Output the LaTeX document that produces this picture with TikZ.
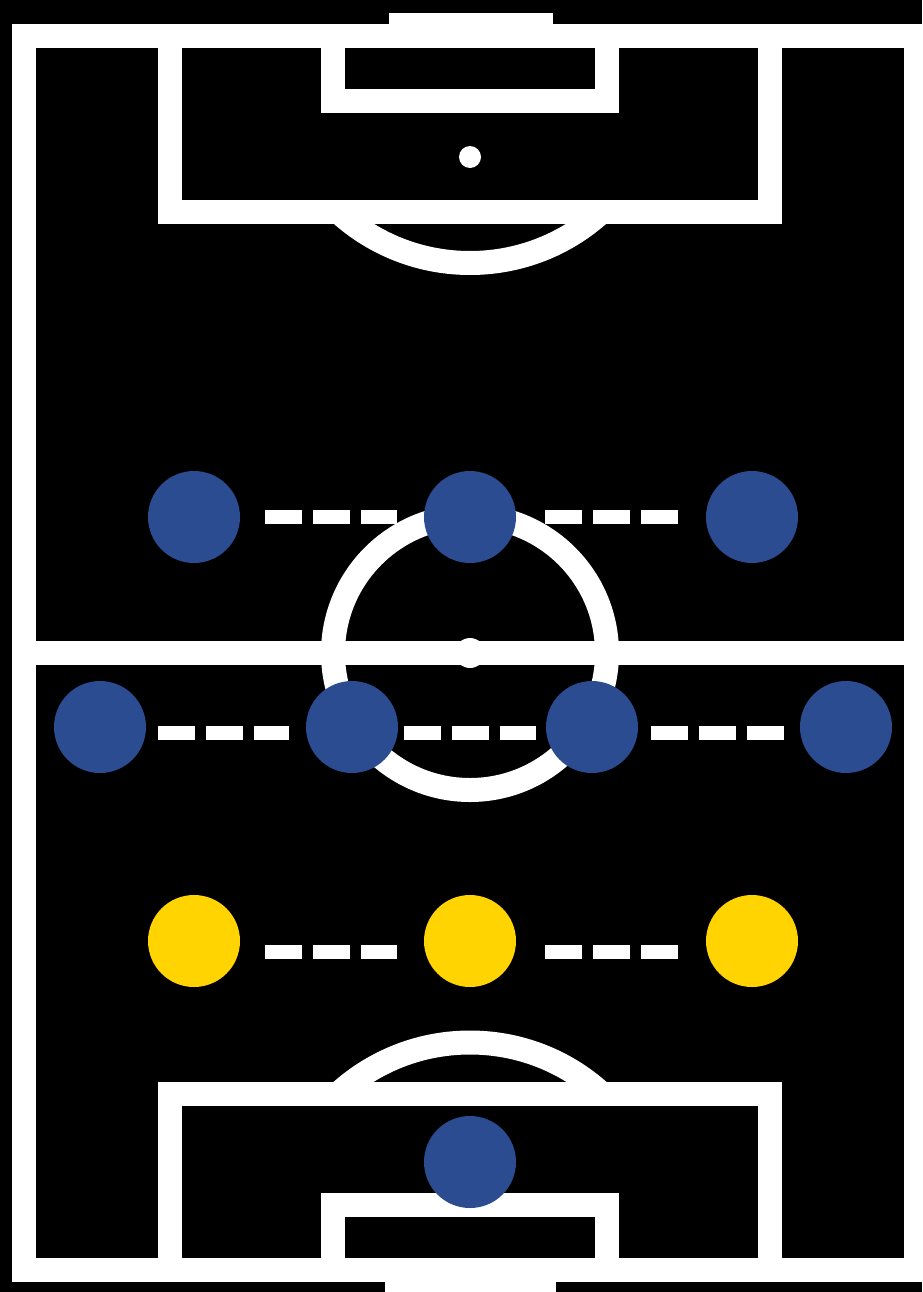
\documentclass[tikz,border=0pt]{standalone}
\usepackage{tikz}
\definecolor{pitch}{HTML}{000000}
\definecolor{navy}{HTML}{2C4C91}
\definecolor{gold}{HTML}{FFD400}

\begin{document}
\begin{tikzpicture}[x=0.1mm,y=-0.1mm,
    chalk/.style={draw=white,line width=2.4mm},
    player/.style={circle,fill=navy,minimum size=9.2mm,inner sep=0pt},
    backer/.style={player,fill=gold},
    dashline/.style={draw=white,line width=1.4mm,dash pattern=on 3.7mm off 1.1mm}]
  \useasboundingbox (0,0) rectangle (922,1292);
  \fill[pitch] (0,0) rectangle (922,1292);
  % markings
  \draw[chalk] (24,35.5) rectangle (916,1270);
  \draw[chalk] (24,653) -- (916,653);
  \draw[chalk] (470,653) circle[radius=13.7mm];
  \fill[white] (470,653) circle[radius=1.5mm];
  \draw[chalk] (170,35.5) rectangle (770,211.5);
  \draw[chalk] (333,35.5) rectangle (607,100.5);
  \fill[white] (470,157) circle[radius=1.1mm];
  \draw[chalk] (170,1270) rectangle (770,1094);
  \draw[chalk] (333,1270) rectangle (607,1205);
  \begin{scope}
    \clip (0,211.5) rectangle (922,400);
    \draw[chalk] (470,68) circle[radius=19.5mm];
  \end{scope}
  \begin{scope}
    \clip (0,1094) rectangle (922,900);
    \draw[chalk] (470,1237.5) circle[radius=19.5mm];
  \end{scope}
  \fill[white] (389,13) rectangle (553,24);
  \fill[white] (385,1281) rectangle (556,1292);
  % players
  \node[player] (f1) at (194,517) {};
  \node[player] (f2) at (470,517) {};
  \node[player] (f3) at (752,517) {};
  \node[player] (m1) at (100,727) {};
  \node[player] (m2) at (352,727) {};
  \node[player] (m3) at (592,727) {};
  \node[player] (m4) at (846,727) {};
  \node[backer] (b1) at (194,941) {};
  \node[backer] (b2) at (470,941) {};
  \node[backer] (b3) at (752,941) {};
  \node[player] (gk) at (470,1162) {};
  % links
  \foreach \u/\vv/\s/\t in {f1/f2/2.4/2.6,f2/f3/2.86/2.65}{\draw[dashline,shorten <=\s mm,shorten >=\t mm] (\u) -- (\vv);}
  \foreach \u/\vv/\s/\t in {m1/m2/1.08/1.6,m2/m3/0.5/0.9,m3/m4/1.26/1.5}{\draw[dashline,shorten <=\s mm,shorten >=\t mm] ([yshift=-0.55mm]\u.east) -- ([yshift=-0.55mm]\vv.west);}
  \foreach \u/\vv/\s/\t in {b1/b2/2.4/2.6,b2/b3/2.86/2.65}{\draw[dashline,shorten <=\s mm,shorten >=\t mm] ([yshift=-1.05mm]\u.east) -- ([yshift=-1.05mm]\vv.west);}
\end{tikzpicture}
\end{document}
